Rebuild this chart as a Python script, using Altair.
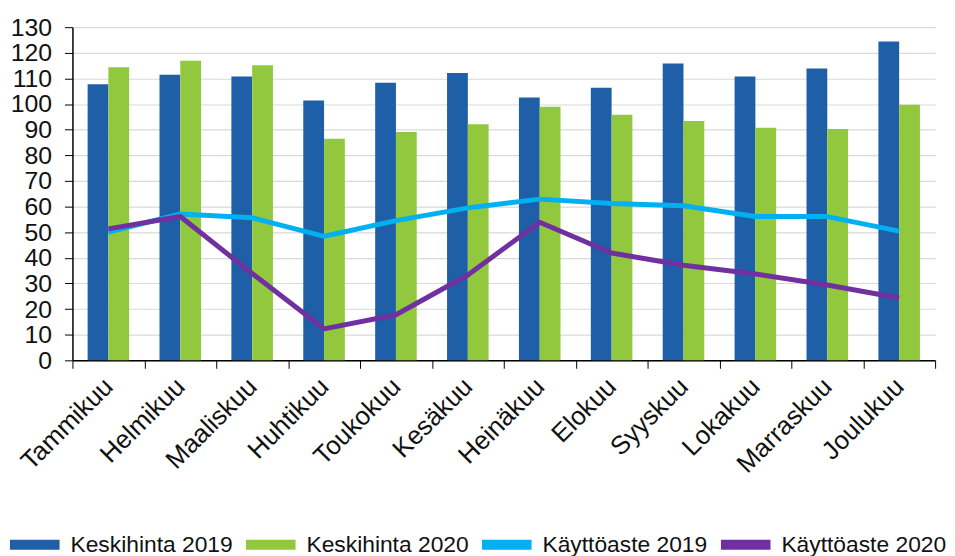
import altair as alt
import pandas as pd

months = ["Tammikuu", "Helmikuu", "Maaliskuu", "Huhtikuu", "Toukokuu", "Kesäkuu",
          "Heinäkuu", "Elokuu", "Syyskuu", "Lokakuu", "Marraskuu", "Joulukuu"]
keskihinta_2019 = [107.7, 111.4, 110.8, 101.4, 108.3, 112.1, 102.6, 106.4, 115.8, 110.8, 113.9, 124.4]
keskihinta_2020 = [114.4, 116.9, 115.1, 86.5, 89.1, 92.1, 98.9, 95.8, 93.4, 90.8, 90.3, 99.7]
kayttoaste_2019 = [50.0, 57.1, 55.6, 48.4, 54.5, 59.5, 62.9, 61.2, 60.3, 56.1, 56.1, 50.4]
kayttoaste_2020 = [51.3, 56.1, 33.9, 12.3, 17.8, 33.3, 53.9, 41.9, 37.1, 33.7, 29.4, 24.3]
series = ["Keskihinta 2019", "Keskihinta 2020", "Käyttöaste 2019", "Käyttöaste 2020"]
colors = ["#1F5FA8", "#92C83E", "#00B0F0", "#7030A0"]
y_ticks = list(range(0, 131, 10))

rows = []
for name, vals in zip(series, [keskihinta_2019, keskihinta_2020, kayttoaste_2019, kayttoaste_2020]):
    for m, v in zip(months, vals):
        rows.append({"month": m, "series": name, "value": v})
df = pd.DataFrame(rows)
bar_df = df[df["series"].isin(series[:2])]
line_df = df[df["series"].isin(series[2:])]

FONT = "Liberation Sans"

color = alt.Color(
    "series:N",
    scale=alt.Scale(domain=series, range=colors),
    legend=alt.Legend(
        title=None, orient="none", legendX=-68, legendY=492,
        direction="horizontal", columns=4, columnPadding=-7,
        symbolType="M-1,0H1", symbolSize=2500,
        symbolStrokeWidth=10,
        labelFont=FONT, labelFontSize=23, labelColor="#111111",
        labelOffset=6, labelLimit=0,
    ),
)

x = alt.X(
    "month:N", sort=months, title=None,
    scale=alt.Scale(paddingInner=0, paddingOuter=0),
    axis=alt.Axis(
        labelAngle=-45, labelAlign="right", labelBaseline="middle",
        labelFont=FONT, labelFontSize=26, labelColor="#111111", labelPadding=14,
        tickBand="extent", tickSize=8, tickColor="#000000",
        domainColor="#000000", domainWidth=1.5, grid=False,
    ),
)
y = alt.Y(
    "value:Q", title=None,
    scale=alt.Scale(domain=[0, 130], nice=False),
    axis=alt.Axis(
        values=y_ticks, labelFont=FONT, labelFontSize=25, labelColor="#111111",
        labelPadding=13, tickSize=8, tickColor="#000000",
        domainColor="#000000", domainWidth=1.5,
        grid=True, gridColor="#d9d9d9", gridWidth=1.2,
    ),
)

bars = alt.Chart(bar_df).mark_bar().encode(
    x=x,
    xOffset=alt.XOffset("series:N", sort=series[:2],
                        scale=alt.Scale(paddingInner=0, paddingOuter=0.73)),
    y=y,
    color=color,
)

lines = alt.Chart(line_df).mark_line(strokeWidth=5, strokeJoin="round").encode(
    x=x, y=y, color=color,
)

chart = alt.layer(bars, lines).properties(
    width=870, height=336,
    padding={"left": 65, "top": 17, "right": 12, "bottom": 195},
    autosize=alt.AutoSizeParams(type="none"),
).configure_view(stroke=None)

chart.save("out.html", embed_options={"renderer": "svg", "actions": False})
